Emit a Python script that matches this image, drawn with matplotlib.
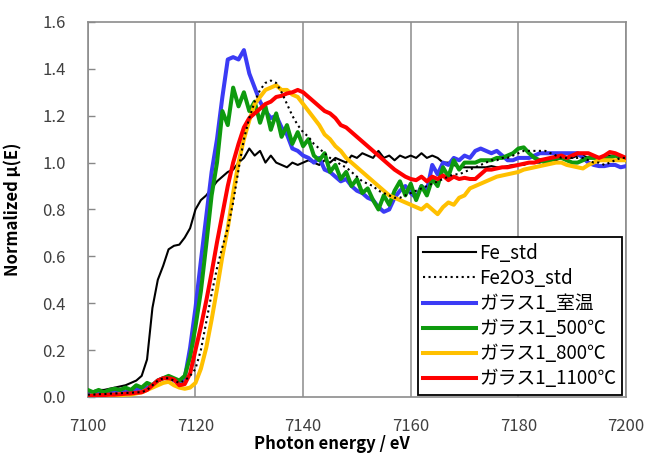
import numpy as np
import matplotlib
matplotlib.use("Agg")
import matplotlib.pyplot as plt

plt.rcParams['font.family'] = ['Noto Sans CJK JP', 'DejaVu Sans']

energy = np.arange(7100, 7201, 1)

fe_std = [0.02, 0.025, 0.03, 0.03, 0.035, 0.04, 0.045, 0.05, 0.06, 0.07,
          0.09, 0.16, 0.38, 0.50, 0.56, 0.63, 0.645, 0.65, 0.68, 0.72,
          0.80, 0.84, 0.86, 0.89, 0.92, 0.94, 0.96, 0.97, 1.00, 1.02,
          1.06, 1.03, 1.05, 1.00, 1.03, 1.00, 0.99, 0.98, 1.00, 0.99,
          1.00, 1.01, 1.00, 0.99, 1.01, 1.00, 1.02, 1.01, 1.00, 1.03,
          1.02, 1.04, 1.03, 1.02, 1.05, 1.02, 1.03, 1.01, 1.03, 1.02,
          1.03, 1.02, 1.04, 1.02, 1.03, 1.02, 1.00, 1.00, 0.99, 0.98,
          0.98, 0.98, 0.98, 0.98, 0.98, 0.985, 0.98, 0.98, 0.985, 0.99,
          0.99, 0.99, 1.00, 1.00, 1.00, 1.01, 1.01, 1.01, 1.02, 1.02,
          1.02, 1.03, 1.03, 1.02, 1.02, 1.02, 1.02, 1.03, 1.03, 1.02,
          1.02]

fe2o3_std = [0.01, 0.01, 0.012, 0.012, 0.014, 0.015, 0.016, 0.017, 0.018, 0.02,
             0.02, 0.03, 0.05, 0.07, 0.08, 0.08, 0.07, 0.06, 0.07, 0.09,
             0.12, 0.20, 0.32, 0.44, 0.55, 0.64, 0.72, 0.83, 0.97, 1.10,
             1.19, 1.26, 1.31, 1.34, 1.35, 1.34, 1.30, 1.25, 1.20, 1.16,
             1.13, 1.11, 1.08, 1.06, 1.04, 1.02, 1.01, 0.99, 0.98, 0.96,
             0.94, 0.92, 0.91, 0.90, 0.88, 0.87, 0.86, 0.85, 0.85, 0.86,
             0.87, 0.88, 0.89, 0.90, 0.91, 0.92, 0.93, 0.94, 0.95, 0.95,
             0.96, 0.97, 0.98, 0.99, 1.00, 1.01, 1.01, 1.02, 1.02, 1.03,
             1.04, 1.05, 1.05, 1.05, 1.05, 1.05, 1.04, 1.03, 1.02, 1.02,
             1.02, 1.02, 1.02, 1.01, 1.00, 1.00, 0.99, 1.00, 1.01, 1.02,
             1.02]

glass_rt = [0.01, 0.02, 0.015, 0.02, 0.02, 0.025, 0.03, 0.02, 0.03, 0.035,
            0.03, 0.04, 0.05, 0.07, 0.08, 0.085, 0.07, 0.065, 0.08, 0.21,
            0.38, 0.58, 0.77, 0.96, 1.10, 1.28, 1.44, 1.45, 1.44, 1.48,
            1.38, 1.32, 1.26, 1.22, 1.19, 1.20, 1.15, 1.12, 1.06, 1.05,
            1.03, 1.02, 1.00, 1.02, 0.97, 0.96, 0.94, 0.92, 0.93, 0.90,
            0.88, 0.87, 0.85, 0.84, 0.81, 0.79, 0.80, 0.85, 0.88, 0.90,
            0.87, 0.85, 0.90, 0.88, 0.99, 0.95, 1.00, 0.99, 1.02, 1.01,
            1.03, 1.02, 1.05, 1.06, 1.05, 1.04, 1.05, 1.03, 1.01, 1.01,
            1.02, 1.02, 1.02, 1.03, 1.04, 1.04, 1.04, 1.04, 1.04, 1.04,
            1.04, 1.04, 1.02, 1.00, 0.99, 0.985, 0.985, 0.99, 0.99, 0.98,
            0.985]

glass_500 = [0.03, 0.02, 0.03, 0.02, 0.03, 0.035, 0.03, 0.04, 0.03, 0.05,
             0.04, 0.06, 0.05, 0.07, 0.08, 0.09, 0.08, 0.07, 0.09, 0.17,
             0.30, 0.45, 0.65, 0.86, 1.00, 1.22, 1.16, 1.32, 1.24, 1.30,
             1.22, 1.26, 1.17, 1.24, 1.14, 1.21, 1.11, 1.16, 1.08, 1.13,
             1.07, 1.10, 1.03, 1.01, 1.04, 0.96, 0.99, 0.93, 0.96, 0.90,
             0.93, 0.87, 0.89, 0.84, 0.80, 0.86, 0.82, 0.88, 0.92, 0.86,
             0.91, 0.84, 0.90, 0.86, 0.93, 0.90, 0.98, 0.94, 1.01, 0.97,
             1.00, 1.00, 1.00, 1.01, 1.01, 1.01, 1.02, 1.02, 1.03, 1.04,
             1.06, 1.065, 1.04, 1.02, 1.01, 1.00, 1.01, 1.02, 1.02, 1.01,
             1.00, 1.00, 1.01, 1.02, 1.02, 1.02, 1.02, 1.02, 1.03, 1.02,
             1.01]

glass_800 = [0.005, 0.005, 0.0, 0.005, 0.005, 0.01, 0.005, 0.01, 0.01, 0.015,
             0.02, 0.03, 0.04, 0.05, 0.06, 0.065, 0.05, 0.04, 0.035, 0.04,
             0.06, 0.12, 0.21, 0.33, 0.46, 0.60, 0.72, 0.87, 1.00, 1.10,
             1.18, 1.25, 1.28, 1.31, 1.32, 1.33, 1.31, 1.31, 1.29, 1.28,
             1.25, 1.22, 1.19, 1.16, 1.12, 1.10, 1.07, 1.05, 1.02, 1.00,
             0.98, 0.96, 0.94, 0.92, 0.90, 0.88, 0.86, 0.85, 0.84, 0.83,
             0.82, 0.81, 0.80, 0.82, 0.80, 0.78, 0.81, 0.83, 0.82, 0.85,
             0.86, 0.89, 0.90, 0.91, 0.92, 0.93, 0.94, 0.945, 0.95, 0.955,
             0.96, 0.97, 0.975, 0.98, 0.985, 0.99, 0.995, 1.00, 1.00, 0.99,
             0.985, 0.98, 0.975, 0.99, 1.00, 1.01, 1.01, 1.01, 1.01, 1.01,
             1.01]

glass_1100 = [0.005, 0.005, 0.008, 0.008, 0.01, 0.01, 0.012, 0.014, 0.015, 0.018,
              0.02, 0.03, 0.05, 0.07, 0.08, 0.08, 0.075, 0.05, 0.055, 0.10,
              0.20, 0.30, 0.41, 0.53, 0.66, 0.78, 0.90, 1.00, 1.08, 1.15,
              1.19, 1.21, 1.23, 1.25, 1.26, 1.28, 1.285, 1.295, 1.30, 1.31,
              1.30, 1.28, 1.26, 1.24, 1.22, 1.21, 1.19, 1.16, 1.15, 1.13,
              1.11, 1.09, 1.07, 1.05, 1.03, 1.01, 0.99, 0.97, 0.955, 0.94,
              0.93, 0.925, 0.94, 0.92, 0.94, 0.93, 0.945, 0.925, 0.94, 0.93,
              0.935, 0.93, 0.93, 0.95, 0.97, 0.97, 0.975, 0.98, 0.98, 0.985,
              0.99, 0.995, 1.00, 1.00, 1.01, 1.015, 1.02, 1.025, 1.03, 1.02,
              1.03, 1.04, 1.04, 1.04, 1.03, 1.02, 1.03, 1.045, 1.04, 1.03,
              1.02]

labels = ["Fe_std", "Fe2O3_std", "ガラス1_室温", "ガラス1_500℃", "ガラス1_800℃", "ガラス1_1100℃"]
x_ticks = [7100, 7120, 7140, 7160, 7180, 7200]
y_ticks = [0.0, 0.2, 0.4, 0.6, 0.8, 1.0, 1.2, 1.4, 1.6]

fig = plt.figure(figsize=(6.46, 4.54), dpi=100)
ax = fig.add_axes([0.136, 0.1256, 0.833, 0.826])

ax.plot(energy, fe_std, color='black', lw=1.5, label=labels[0], zorder=3)
ax.plot(energy, glass_rt, color='#3b3bf5', lw=2.9, label=labels[2], zorder=4)
ax.plot(energy, glass_500, color='#0e9a0e', lw=2.9, label=labels[3], zorder=5)
ax.plot(energy, glass_800, color='#ffc000', lw=2.9, label=labels[4], zorder=6)
ax.plot(energy, glass_1100, color='#ff0000', lw=2.9, label=labels[5], zorder=7)
ax.plot(energy, fe2o3_std, color='black', lw=1.5, ls=':', label=labels[1], zorder=8)

ax.set_xlim(7100, 7200)
ax.set_ylim(0, 1.6)
ax.set_xticks(x_ticks)
ax.set_xticklabels([str(v) for v in x_ticks])
ax.set_yticks(y_ticks)
ax.set_yticklabels([f"{v:.1f}" for v in y_ticks])

ax.tick_params(axis='x', length=0, pad=15, labelsize=12, colors='#404040')
ax.tick_params(axis='y', direction='in', length=5, width=1, color='#888888',
               pad=16, labelsize=12, labelcolor='#404040')
for sp in ax.spines.values():
    sp.set_color('#8c8c8c')
    sp.set_linewidth(1.2)
ax.grid(axis='x', color='#8c8c8c', lw=1.1)
ax.set_axisbelow(True)

ax.set_xlabel("Photon energy / eV", fontsize=12, fontweight='bold')
ax.xaxis.set_label_coords(0.454, -0.102)
ax.set_ylabel("Normalized μ(E)", fontsize=12, fontweight='bold')
ax.yaxis.set_label_coords(-0.122, 0.5)

handles, labs = ax.get_legend_handles_labels()
order = [labs.index(l) for l in labels]
leg = ax.legend([handles[i] for i in order], [labs[i] for i in order],
                loc='lower right', bbox_to_anchor=(0.993, 0.005), borderaxespad=0,
                fontsize=13.5, frameon=True, fancybox=False, framealpha=1,
                edgecolor='black', handlelength=2.8, handletextpad=0.2,
                labelspacing=0.22, borderpad=0.3)
leg.get_frame().set_linewidth(1.3)

fig.savefig("out.png", dpi=100)
